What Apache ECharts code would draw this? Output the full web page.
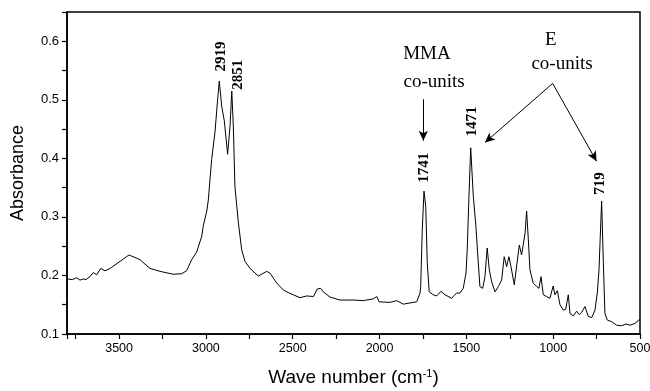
<!DOCTYPE html>
<html>
<head>
<meta charset="utf-8">
<script src="https://cdn.jsdelivr.net/npm/echarts@6/dist/echarts.min.js"></script>
<style>html,body{margin:0;padding:0;background:#fff}#c{width:650px;height:391px}</style>
</head>
<body>
<div id="c"></div>
<script>
// Wave number (cm-1) and absorbance
const wavenumber = [3798,3770,3744,3725,3706,3690,3668,3649,3629,3606,3581,3552,3495,3443,3380,3322,3264,3188,3139,3111,3082,3053,3024,3015,2995,2986,2967,2948,2934,2923,2909,2894,2875,2861,2851,2842,2833,2813,2794,2775,2746,2698,2650,2631,2592,2554,2520,2458,2420,2381,2358,2339,2324,2285,2228,2151,2094,2036,2016,2003,1940,1901,1863,1825,1786,1767,1763,1754,1744,1734,1725,1714,1691,1671,1646,1623,1585,1556,1537,1518,1502,1495,1485,1475,1460,1445,1435,1422,1406,1393,1380,1368,1355,1335,1316,1297,1282,1268,1255,1243,1224,1207,1195,1182,1162,1153,1143,1134,1115,1095,1082,1070,1057,1038,1019,1000,990,976,961,942,928,913,903,884,865,850,836,817,798,778,759,746,736,730,721,711,702,689,663,635,606,581,558,529,510,500];
const absorbance = [0.194,0.193,0.196,0.192,0.194,0.193,0.198,0.205,0.201,0.212,0.208,0.212,0.224,0.235,0.227,0.212,0.207,0.202,0.203,0.208,0.227,0.240,0.267,0.285,0.310,0.329,0.398,0.444,0.495,0.532,0.489,0.464,0.407,0.455,0.515,0.455,0.352,0.290,0.244,0.224,0.212,0.199,0.207,0.204,0.187,0.175,0.170,0.162,0.165,0.164,0.177,0.178,0.172,0.163,0.158,0.158,0.157,0.160,0.164,0.155,0.154,0.157,0.151,0.153,0.155,0.170,0.181,0.278,0.344,0.318,0.221,0.172,0.167,0.165,0.173,0.167,0.161,0.170,0.170,0.178,0.204,0.244,0.335,0.418,0.335,0.284,0.238,0.181,0.178,0.198,0.247,0.210,0.190,0.172,0.181,0.192,0.232,0.215,0.232,0.215,0.184,0.224,0.252,0.235,0.272,0.310,0.261,0.210,0.187,0.181,0.178,0.198,0.167,0.164,0.161,0.182,0.167,0.174,0.150,0.141,0.142,0.167,0.135,0.131,0.139,0.133,0.137,0.147,0.130,0.128,0.141,0.170,0.210,0.258,0.327,0.221,0.135,0.124,0.121,0.115,0.114,0.117,0.115,0.118,0.123,0.125];

// Peak labels (rotated), in data coordinates
const peakText = ['2919','2851','1741','1471','719'];
const peakW    = [2913, 2815, 1744, 1468, 730];
const peakA    = [0.574, 0.543, 0.384, 0.463, 0.357];

// Group notes, in data coordinates
const noteText = ['MMA','co-units','E','co-units'];
const noteW    = [1727, 1686, 1013, 949];
const noteA    = [0.578, 0.531, 0.603, 0.561];

// Arrows: [fromW, fromA, toW, toA]
const arrows = [
  [1748, 0.501, 1748, 0.430],
  [1003, 0.528, 1393, 0.427],
  [1003, 0.528, 750, 0.395]
];

const chart = echarts.init(document.getElementById('c'), null, {renderer: 'canvas'});
const seriesData = wavenumber.map((w, i) => [w, absorbance[i]]);

chart.setOption({
  animation: false,
  backgroundColor: '#fff',
  grid: {left: 67, right: 10, top: 12, bottom: 57, show: true, borderColor: '#000', borderWidth: 1.5, outerBoundsMode: 'none', containLabel: false},
  xAxis: {
    type: 'value', inverse: true, min: 500, max: 3800, interval: 250,
    name: 'Wave number (cm{sup|-1})', nameLocation: 'middle', nameGap: 34,
    nameTextStyle: {fontFamily: 'Liberation Sans', fontSize: 19, color: '#000',
      rich: {sup: {fontFamily: 'Liberation Sans', fontSize: 11, color: '#000', verticalAlign: 'top', lineHeight: 11, padding: [0, 0, 10, 0]}}},
    axisLine: {show: true, onZero: false, lineStyle: {color: '#000', width: 1.5}},
    axisTick: {show: true, inside: false, length: 5, lineStyle: {color: '#000', width: 1.2}},
    axisLabel: {color: '#000', fontFamily: 'Liberation Sans', fontSize: 12.5, margin: 8,
      formatter: v => (Math.round(v) % 500 === 0 ? String(Math.round(v)) : '')},
    splitLine: {show: false}
  },
  yAxis: {
    type: 'value', min: 0.1, max: 0.65, interval: 0.05,
    name: 'Absorbance', nameLocation: 'middle', nameGap: 40, nameRotate: 90,
    nameTextStyle: {fontFamily: 'Liberation Sans', fontSize: 18, color: '#000'},
    axisLine: {show: true, onZero: false, lineStyle: {color: '#000', width: 1.5}},
    axisTick: {show: true, inside: false, length: 5, lineStyle: {color: '#000', width: 1.2}},
    axisLabel: {color: '#000', fontFamily: 'Liberation Sans', fontSize: 13, margin: 8,
      formatter: v => { const r = Math.round(v * 100); return r % 10 === 0 ? (r / 100).toFixed(1) : ''; }},
    splitLine: {show: false}
  },
  series: [{
    type: 'line', data: seriesData, showSymbol: false, symbol: 'none',
    lineStyle: {color: '#000', width: 1}, silent: true,
    markLine: {
      silent: true, symbol: ['none', 'arrow'], symbolSize: [7, 10],
      label: {show: false},
      lineStyle: {color: '#000', width: 1, type: 'solid'},
      emphasis: {disabled: true},
      data: arrows.map(a => [{coord: [a[0], a[1]]}, {coord: [a[2], a[3]]}])
    }
  }]
});

const g = [];
peakText.forEach((t, i) => {
  const p = chart.convertToPixel({gridIndex: 0}, [peakW[i], peakA[i]]);
  g.push({type: 'text', x: p[0], y: p[1], rotation: Math.PI / 2, silent: true,
    style: {text: t, font: 'bold 15px "Liberation Serif"', fill: '#000', align: 'center', verticalAlign: 'middle'}});
});
noteText.forEach((t, i) => {
  const p = chart.convertToPixel({gridIndex: 0}, [noteW[i], noteA[i]]);
  g.push({type: 'text', x: p[0], y: p[1], silent: true,
    style: {text: t, font: '19px "Liberation Serif"', fill: '#000', align: 'center', verticalAlign: 'middle'}});
});
chart.setOption({graphic: g});
</script>
</body>
</html>
